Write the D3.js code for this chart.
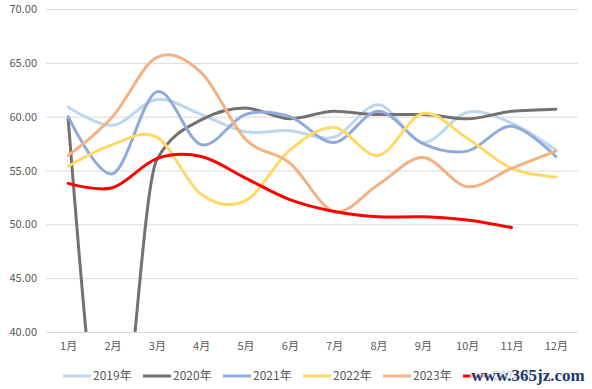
<!DOCTYPE html>
<html>
<head>
<meta charset="utf-8">
<script src="https://cdn.jsdelivr.net/npm/d3@7"></script>
<style>
  body { margin: 0; background: #fff; }
  text { font-family: "Noto Sans CJK SC", "DejaVu Sans", sans-serif; }
</style>
</head>
<body>
<div id="chart"></div>
<script>
// 月份和各年数据
const months = ["1月", "2月", "3月", "4月", "5月", "6月", "7月", "8月", "9月", "10月", "11月", "12月"];
const years = ["2019年", "2020年", "2021年", "2022年", "2023年", "2024年"];
const yTicks = [40, 45, 50, 55, 60, 65, 70];

const v2019 = [60.9, 59.2, 61.6, 60.2, 58.6, 58.7, 58.1, 61.1, 57.6, 60.4, 59.4, 56.9];
const v2020 = [59.8, 25.0, 56.0, 59.7, 60.8, 59.8, 60.5, 60.2, 60.2, 59.8, 60.5, 60.7];
const v2021 = [60.0, 54.7, 62.3, 57.4, 60.2, 60.0, 57.6, 60.5, 57.5, 56.8, 59.1, 56.3];
const v2022 = [55.4, 57.4, 58.1, 52.8, 52.2, 56.9, 59.0, 56.4, 60.3, 58.0, 55.2, 54.4];
const v2023 = [56.4, 60.0, 65.5, 64.1, 57.9, 55.7, 51.2, 53.7, 56.2, 53.5, 55.2, 56.8];
const v2024 = [53.8, 53.4, 56.1, 56.3, 54.3, 52.3, 51.2, 50.7, 50.7, 50.4, 49.7];

const colors = ["#BDD7EE", "#757171", "#8FAADC", "#FFD966", "#F4B183", "#FF0000"];
const series = [v2019, v2020, v2021, v2022, v2023, v2024];

const width = 592;
const height = 389;
const margin = { top: 9, right: 14, bottom: 57, left: 46 };

const svg = d3.select("#chart")
  .append("svg")
  .attr("width", width)
  .attr("height", height);

const x = d3.scalePoint()
  .domain(months)
  .range([margin.left, width - margin.right])
  .padding(0.5);

const y = d3.scaleLinear()
  .domain([40, 70])
  .range([height - margin.bottom, margin.top]);

// 网格线
svg.append("g")
  .selectAll("line")
  .data(yTicks)
  .join("line")
  .attr("x1", margin.left)
  .attr("x2", width - margin.right)
  .attr("y1", d => y(d) + 0.5)
  .attr("y2", d => y(d) + 0.5)
  .attr("stroke", "#d9d9d9")
  .attr("stroke-width", 1);

// y 轴
const yAxis = svg.append("g")
  .attr("transform", `translate(${margin.left - 6},0)`)
  .call(d3.axisLeft(y).tickValues(yTicks).tickFormat(d3.format(".2f")).tickSize(0));
yAxis.select(".domain").remove();
yAxis.selectAll("text")
  .attr("fill", "#595959")
  .attr("font-size", 11);

// x 轴
const xAxis = svg.append("g")
  .attr("transform", `translate(0,${height - margin.bottom})`)
  .call(d3.axisBottom(x).tickSize(0).tickPadding(10));
xAxis.select(".domain").remove();
xAxis.selectAll("text")
  .attr("fill", "#595959")
  .attr("font-size", 11);

svg.append("clipPath")
  .attr("id", "plot-clip")
  .append("rect")
  .attr("x", margin.left)
  .attr("y", margin.top - 5)
  .attr("width", width - margin.left - margin.right)
  .attr("height", y(40) - margin.top + 5);

const smooth = d3.line()
  .x((d, i) => x(months[i]))
  .y(d => y(d))
  .curve(d3.curveCardinal.tension(0));

// 2020 年跌幅太大，用 monotone 避免过冲
const monotone = d3.line()
  .x((d, i) => x(months[i]))
  .y(d => y(d))
  .curve(d3.curveMonotoneX);

svg.append("g")
  .attr("clip-path", "url(#plot-clip)")
  .selectAll("path")
  .data(series)
  .join("path")
  .attr("d", (d, i) => i === 1 ? monotone(d) : smooth(d))
  .attr("fill", "none")
  .attr("stroke", (d, i) => colors[i])
  .attr("stroke-width", 3)
  .attr("stroke-linecap", "round");

// 图例
const legend = svg.append("g")
  .attr("transform", `translate(63,${height - 13})`);

const item = legend.selectAll("g")
  .data(years)
  .join("g")
  .attr("transform", (d, i) => `translate(${i * 80},0)`);

item.append("line")
  .attr("x1", 0)
  .attr("x2", 28)
  .attr("stroke", (d, i) => colors[i])
  .attr("stroke-width", 3);

item.append("text")
  .attr("x", 30)
  .attr("dy", "0.35em")
  .attr("fill", "#595959")
  .attr("font-size", 12)
  .text(d => d);

// 水印
svg.append("rect")
  .attr("x", 470)
  .attr("y", height - 23)
  .attr("width", 116)
  .attr("height", 19)
  .attr("fill", "#fff")
  .attr("opacity", 0.7);

svg.append("text")
  .attr("x", 528)
  .attr("y", height - 8)
  .attr("text-anchor", "middle")
  .style("font-family", "'Liberation Serif', serif")
  .attr("font-size", 17)
  .attr("font-weight", "bold")
  .attr("fill", "#1d3a70")
  .text("www.365jz.com");
</script>
</body>
</html>
